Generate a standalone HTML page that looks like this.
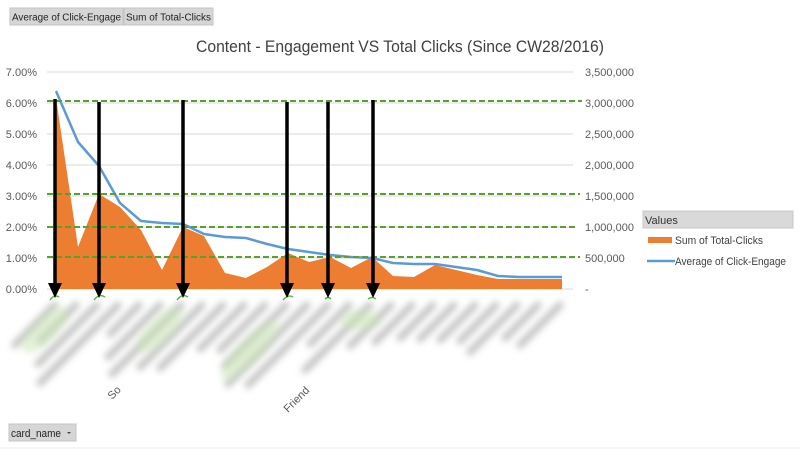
<!DOCTYPE html>
<html><head><meta charset="utf-8"><style>
html,body{margin:0;padding:0;background:#fff;}
svg{display:block;font-family:"Liberation Sans","DejaVu Sans",sans-serif;}
</style></head><body>
<svg width="800" height="450" viewBox="0 0 800 450" xmlns="http://www.w3.org/2000/svg">
<defs>
<filter id="b" x="-20%" y="-20%" width="140%" height="140%"><feGaussianBlur stdDeviation="3.5"/></filter>
</defs>
<rect width="800" height="450" fill="#fff"/>
<!-- buttons -->
<rect x="10" y="8" width="113" height="17" fill="#d6d6d6" stroke="#c4c4c4"/>
<rect x="124" y="8" width="89" height="17" fill="#d6d6d6" stroke="#c4c4c4"/>
<text x="12" y="20.5" font-size="10" fill="#222" textLength="109" lengthAdjust="spacingAndGlyphs">Average of Click-Engage</text>
<text x="126" y="20.5" font-size="10" fill="#222" textLength="85" lengthAdjust="spacingAndGlyphs">Sum of Total-Clicks</text>
<!-- title -->
<text x="400" y="52" font-size="17" fill="#404040" text-anchor="middle" textLength="408" lengthAdjust="spacingAndGlyphs">Content - Engagement VS Total Clicks (Since CW28/2016)</text>
<!-- gridlines -->
<g stroke="#d9d9d9" stroke-width="1">
<line x1="47" y1="72" x2="573" y2="72"/><line x1="47" y1="103" x2="573" y2="103"/><line x1="47" y1="134" x2="573" y2="134"/><line x1="47" y1="165" x2="573" y2="165"/><line x1="47" y1="196" x2="573" y2="196"/><line x1="47" y1="227" x2="573" y2="227"/><line x1="47" y1="258" x2="573" y2="258"/><line x1="47" y1="289" x2="573" y2="289"/>
</g>
<g font-size="11" fill="#595959" text-anchor="end">
<text x="37" y="76">7.00%</text><text x="37" y="107">6.00%</text><text x="37" y="138">5.00%</text><text x="37" y="169">4.00%</text><text x="37" y="200">3.00%</text><text x="37" y="231">2.00%</text><text x="37" y="262">1.00%</text><text x="37" y="293">0.00%</text>
</g>
<g font-size="11" fill="#595959">
<text x="585" y="76">3,500,000</text><text x="585" y="107">3,000,000</text><text x="585" y="138">2,500,000</text><text x="585" y="169">2,000,000</text><text x="585" y="200">1,500,000</text><text x="585" y="231">1,000,000</text><text x="585" y="262">500,000</text><text x="585" y="293">-</text>
</g>
<polygon fill="#ed7d31" points="56,289 56,98 78,247 99,194 120,207 141,230 162,270 183,227 204,236 225,273 246,278 267,267 288,253 309,262 330,257 351,268 372,257 393,276 414,277 435,265 456,270 477,275 498,279 519,279 540,279 562,279 562,289"/>
<polyline fill="none" stroke="#5b9bd5" stroke-width="2.5" stroke-linejoin="round" points="56,91 78,142 99,166 120,203 141,221 162,223 183,224 204,234 225,237 246,238 267,244 288,249 309,252 330,255 351,257 372,258 393,263 414,264 435,264 456,267 477,270 498,276 519,277 540,277 562,277"/>
<!-- blurred labels -->
<g stroke="#a8a8a8" stroke-width="7" stroke-linecap="round" opacity="0.7" filter="url(#b)">
<line x1="55" y1="305" x2="15" y2="345"/><line x1="76" y1="305" x2="40" y2="341"/><line x1="97" y1="305" x2="38" y2="364"/><line x1="118" y1="305" x2="40" y2="383"/><line x1="139" y1="305" x2="110" y2="334"/><line x1="160" y1="305" x2="108" y2="357"/><line x1="181" y1="305" x2="112" y2="374"/><line x1="202" y1="305" x2="140" y2="367"/><line x1="223" y1="305" x2="160" y2="368"/><line x1="244" y1="305" x2="200" y2="349"/><line x1="265" y1="305" x2="220" y2="350"/><line x1="286" y1="305" x2="225" y2="366"/><line x1="307" y1="305" x2="228" y2="384"/><line x1="328" y1="305" x2="248" y2="385"/><line x1="349" y1="305" x2="310" y2="344"/><line x1="370" y1="305" x2="305" y2="370"/><line x1="391" y1="305" x2="350" y2="346"/><line x1="412" y1="305" x2="375" y2="342"/><line x1="433" y1="305" x2="400" y2="338"/><line x1="454" y1="305" x2="420" y2="339"/><line x1="475" y1="305" x2="440" y2="340"/><line x1="496" y1="305" x2="460" y2="341"/><line x1="517" y1="305" x2="470" y2="352"/><line x1="538" y1="305" x2="505" y2="338"/><line x1="560" y1="305" x2="520" y2="345"/>
</g>
<g fill="#c8e6b0" opacity="0.5" filter="url(#b)">
<ellipse cx="45" cy="330" rx="30" ry="12" transform="rotate(-45 45 330)"/><ellipse cx="160" cy="330" rx="30" ry="12" transform="rotate(-45 160 330)"/><ellipse cx="250" cy="350" rx="40" ry="12" transform="rotate(-45 250 350)"/><ellipse cx="360" cy="320" rx="20" ry="10"/>
</g>
<text x="112" y="400" font-size="11" fill="#595959" transform="rotate(-45 112 400)">So</text>
<text x="288" y="413" font-size="11" fill="#595959" transform="rotate(-45 288 413)">Friend</text>
<g stroke="#5aa02c" stroke-width="2" stroke-dasharray="6,3">
<line x1="47" y1="101" x2="582" y2="101"/><line x1="47" y1="194" x2="580" y2="194"/><line x1="47" y1="227" x2="578" y2="227"/><line x1="47" y1="257" x2="580" y2="257"/>
</g>
<g fill="none" stroke="#4caf30" stroke-width="1.3">
<path d="M50,300 q4,-6 9,-3"/><path d="M94,300 q5,-7 11,-3"/><path d="M177,300 q5,-7 11,-3"/><path d="M283,300 q5,-6 10,-3"/><path d="M325,299 q3,-3 6,0"/><path d="M368,299 q4,-3 8,0"/>
</g>
<g stroke="#000" stroke-width="3.5">
<line x1="55" y1="99" x2="55" y2="288"/><line x1="99" y1="102" x2="99" y2="288"/><line x1="183" y1="100" x2="183" y2="288"/><line x1="287" y1="102" x2="287" y2="288"/><line x1="328" y1="102" x2="328" y2="288"/><line x1="373" y1="100" x2="373" y2="288"/>
</g>
<g fill="#000">
<polygon points="48,283 62,283 55,298"/><polygon points="92,283 106,283 99,298"/><polygon points="176,283 190,283 183,298"/><polygon points="280,283 294,283 287,298"/><polygon points="321,283 335,283 328,298"/><polygon points="366,283 380,283 373,298"/>
</g>
<!-- legend -->
<rect x="643" y="211" width="150" height="17" fill="#d9d9d9" stroke="#c8c8c8"/>
<text x="645" y="224" font-size="11" fill="#333">Values</text>
<rect x="648" y="237" width="24" height="6" fill="#ed7d31"/>
<text x="675" y="244" font-size="11" fill="#404040" textLength="88" lengthAdjust="spacingAndGlyphs">Sum of Total-Clicks</text>
<line x1="647" y1="261" x2="675" y2="261" stroke="#5b9bd5" stroke-width="2.5"/>
<text x="675" y="265" font-size="11" fill="#404040" textLength="111" lengthAdjust="spacingAndGlyphs">Average of Click-Engage</text>
<rect x="9" y="424" width="67" height="17" fill="#d6d6d6" stroke="#c4c4c4"/>
<text x="11" y="437" font-size="11" fill="#222" textLength="50" lengthAdjust="spacingAndGlyphs">card_name</text>
<polygon points="67,432 71,432 69,434" fill="#444"/>
<line x1="0" y1="448" x2="800" y2="448" stroke="#eee"/>
</svg>
</body></html>
